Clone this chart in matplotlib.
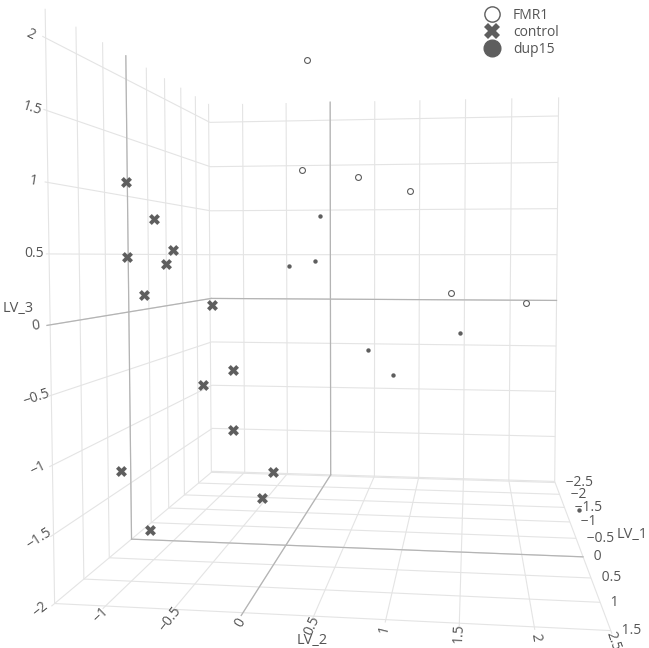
import matplotlib
matplotlib.use('Agg')
import matplotlib.pyplot as plt
from matplotlib.lines import Line2D
from matplotlib.ticker import FixedLocator, FuncFormatter

plt.rcParams['font.family'] = ['Open Sans', 'DejaVu Sans']
plt.rcParams['grid.color'] = '#e4e4e4'
plt.rcParams['grid.linewidth'] = 0.8

fmr1_lv1 = [0.3, -0.8, -1.2, -1.6, -0.5, -1.0]
fmr1_lv2 = [0.25, 0.00, 0.48, 0.96, 1.39, 2.08]
fmr1_lv3 = [2.06, 1.285, 1.25, 1.14, 0.155, 0.05]

control_lv1 = [1.2, 0.8, 0.5, 1.0, 0.6, 0.9, 0.3, 0.7, 1.1, 0.9, 1.4, 0.4, 0.8, 1.5]
control_lv2 = [-0.93, -0.86, -0.81, -1.00, -0.835, -0.91, -0.55, -0.27, -0.39,
               -0.225, -0.91, -0.02, -0.02, -0.665]
control_lv3 = [1.02, 0.77, 0.53, 0.48, 0.42, 0.19, 0.08, -0.40, -0.465,
               -0.835, -1.05, -1.27, -1.38, -1.44]

dup15_lv1 = [-1.5, -2.0, -1.8, -1.3, -2.2, -1.9, -0.3]
dup15_lv2 = [0.06, -0.08, -0.32, 1.47, 0.47, 0.76, 2.50]
dup15_lv3 = [0.89, 0.43, 0.38, -0.26, -0.53, -0.76, -1.69]

lv1_ticks = [-2.5, -2, -1.5, -1, -0.5, 0, 0.5, 1, 1.5]
lv2_ticks = [-1, -0.5, 0, 0.5, 1, 1.5, 2, 2.5]
lv3_ticks = [-2, -1.5, -1, -0.5, 0, 0.5, 1, 1.5, 2]
lv2_rot = [44, 52, 60, 66, 76, 87, -81, -71]
lv3_rot = [39, 33, 26, 18, 9, 0, -9, -17, -26]
lv1_lim = (-2.55, 1.55)
lv2_lim = (-1.38, 2.5)
lv3_lim = (-2.0, 2.2)

mark = '#5e5e5e'
txt = '#555555'
zero = '#b4b4b4'

zoom = 1.176
fig = plt.figure(figsize=(6.49, 6.48), dpi=100)
ax = fig.add_axes([0.0375, 0.025, 1, 1], projection='3d')
ax.set_proj_type('persp', focal_length=0.2218 * zoom)
ax.set_box_aspect((lv1_lim[1] - lv1_lim[0], lv2_lim[1] - lv2_lim[0],
                   lv3_lim[1] - lv3_lim[0]), zoom=zoom)
ax.view_init(elev=2.7, azim=7.0)

ax.scatter(fmr1_lv1, fmr1_lv2, fmr1_lv3, marker='o', s=18, facecolors='white',
           edgecolors=mark, linewidths=0.8, depthshade=False)
ax.scatter(control_lv1, control_lv2, control_lv3, marker='X', s=62, color=mark,
           linewidths=0, depthshade=False)
ax.scatter(dup15_lv1, dup15_lv2, dup15_lv3, marker='o', s=10, color=mark,
           linewidths=0, depthshade=False)

ax.set_xlim(*lv1_lim)
ax.set_ylim(*lv2_lim)
ax.set_zlim(*lv3_lim)

# zero lines on the back panes
x0, x1 = lv1_lim
y0, y1 = lv2_lim
z0, z1 = lv3_lim
for xs, ys, zs in [([x0, x0], [0, 0], [z0, z1]), ([x0, x0], [y0, y1], [0, 0]),
                   ([0, 0], [y0, y0], [z0, z1]), ([x0, x1], [y0, y0], [0, 0]),
                   ([0, 0], [y0, y1], [z0, z0]), ([x0, x1], [0, 0], [z0, z0])]:
    ax.plot(xs, ys, zs, color=zero, lw=0.9)

fmt = FuncFormatter(lambda v, p: ('%g' % v).replace('-', '\u2212'))
# LV_1 labels start a little right of the box edge
fmt1 = FuncFormatter(lambda v, p: '\u2002 ' + ('%g' % v).replace('-', '\u2212'))
for axis, ticks, f, pad in [(ax.xaxis, lv1_ticks, fmt1, -8), (ax.yaxis, lv2_ticks, fmt, -6.0),
                            (ax.zaxis, lv3_ticks, fmt, -4.5)]:
    axis.set_major_locator(FixedLocator(ticks))
    axis.set_major_formatter(f)
    axis.set_pane_color((1, 1, 1, 0))
    axis.pane.set_edgecolor((1, 1, 1, 0))
    axis.line.set_color((1, 1, 1, 0))
    axis._axinfo['tick']['inward_factor'] = 0
    axis._axinfo['tick']['outward_factor'] = 0
    axis.set_tick_params(labelsize=10, colors=txt, pad=pad)

for axis, rots, ha in [(ax.xaxis, [0] * 9, 'left'), (ax.yaxis, lv2_rot, 'center'),
                       (ax.zaxis, lv3_rot, 'center')]:
    for tick, r in zip(axis.get_major_ticks(), rots):
        lab = tick.label1
        lab.set_rotation(r)
        lab.set_rotation_mode('anchor')
        lab.set_horizontalalignment(ha)
        lab.set_verticalalignment('center')

fig.text(0.028, 0.524, 'LV_3', fontsize=10.5, color=txt, ha='center', va='center')
fig.text(0.481, 0.011, 'LV_2', fontsize=10.5, color=txt, ha='center', va='center')
fig.text(0.974, 0.175, 'LV_1', fontsize=10.5, color=txt, ha='center', va='center')

handles = [Line2D([], [], ls='', marker='o', ms=11, mfc='white', mec=mark, mew=1),
           Line2D([], [], ls='', marker='X', ms=12, mfc=mark, mec=mark, mew=0),
           Line2D([], [], ls='', marker='o', ms=12, mfc=mark, mec=mark)]
fig.legend(handles, ['FMR1', 'control', 'dup15'], loc='upper left',
           bbox_to_anchor=(0.725, 1.0), borderaxespad=0.15, frameon=False,
           fontsize=10, labelcolor=txt, handletextpad=0.5, labelspacing=0.15)

fig.savefig('out.png', dpi=100)
